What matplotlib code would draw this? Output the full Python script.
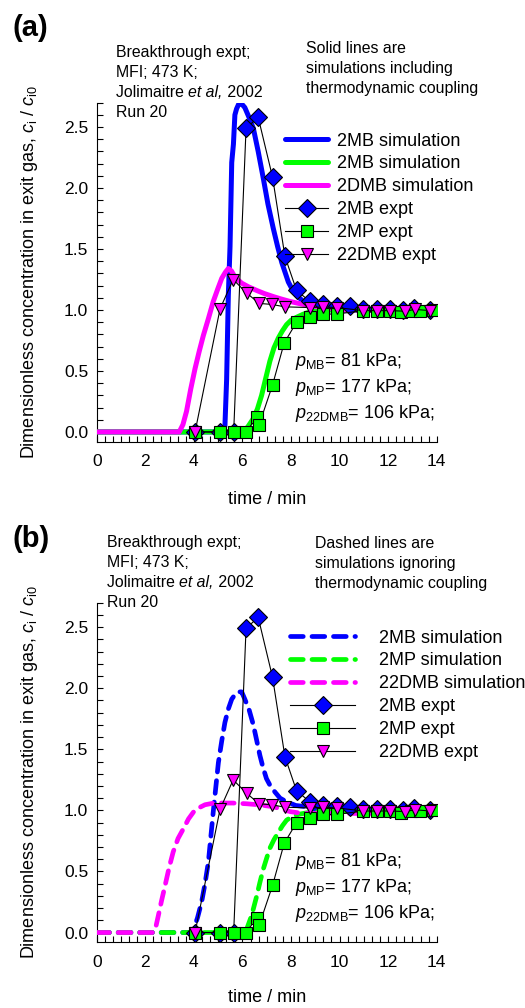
import numpy as np
import matplotlib
matplotlib.use("Agg")
import matplotlib.pyplot as plt
from matplotlib.ticker import MultipleLocator, FormatStrFormatter

plt.rcParams['font.family'] = ['Liberation Sans', 'DejaVu Sans']
plt.rcParams['mathtext.fontset'] = 'custom'
plt.rcParams['mathtext.rm'] = 'Liberation Sans'
plt.rcParams['mathtext.it'] = 'Liberation Sans:italic'

# experimental data (Jolimaitre et al, 2002, run 20)
t_2MB = [4.05, 5.08, 5.64, 6.15, 6.65, 7.24, 7.75, 8.23, 8.78, 9.33, 9.88, 10.43,
         10.98, 11.53, 12.08, 12.63, 13.05, 13.73]
c_2MB = [0.0, 0.0, 0.0, 2.49, 2.58, 2.09, 1.44, 1.16, 1.07, 1.046, 1.035, 1.03,
         1.01, 1.01, 1.01, 1.0, 1.02, 1.0]
t_2MP = [4.05, 5.08, 5.64, 6.15, 6.59, 6.69, 7.24, 7.72, 8.23, 8.78, 9.33, 9.88,
         10.98, 11.53, 12.08, 12.55, 12.95, 13.3, 13.86]
c_2MP = [0.0, 0.0, 0.0, 0.0, 0.12, 0.06, 0.385, 0.73, 0.90, 0.94, 0.967, 0.967,
         0.995, 0.995, 0.995, 0.98, 0.995, 0.995, 1.0]
t_22DMB = [4.05, 5.08, 5.62, 6.17, 6.69, 7.2, 7.75, 8.78, 9.33, 9.88,
           10.98, 11.53, 12.08, 12.7, 13.1, 13.73]
c_22DMB = [0.0, 1.01, 1.25, 1.14, 1.054, 1.046, 1.026, 1.02, 1.025, 1.02,
           0.995, 0.995, 0.995, 0.99, 1.005, 0.995]

# simulations including thermodynamic coupling (a)
ta_2MB = [0, 5.2, 5.28, 5.35, 5.42, 5.49, 5.56, 5.63, 5.69, 5.76, 5.85, 5.97, 6.1,
          6.25, 6.45, 6.65, 6.86, 7.05, 7.27, 7.45, 7.62, 7.89, 8.05, 8.23, 8.45,
          8.65, 8.9, 9.19, 9.6, 10.2, 14]
ca_2MB = [0, 0, 0.05, 0.43, 1.12, 1.52, 2.21, 2.36, 2.60, 2.65, 2.69, 2.69, 2.66,
          2.59, 2.49, 2.30, 2.08, 1.87, 1.67, 1.52, 1.39, 1.23, 1.17, 1.12, 1.08,
          1.05, 1.035, 1.026, 1.01, 1.0, 1.0]
ta_2MP = [0, 6.0, 6.1, 6.25, 6.45, 6.62, 6.79, 6.96, 7.13, 7.3, 7.48, 7.65, 7.82,
          8.0, 8.23, 8.5, 8.78, 9.2, 9.7, 14]
ca_2MP = [0, 0, 0.01, 0.05, 0.11, 0.19, 0.30, 0.44, 0.58, 0.69, 0.77, 0.83, 0.88,
          0.915, 0.94, 0.965, 0.985, 0.995, 1.0, 1.0]
ta_22DMB = [0, 3.4, 3.55, 3.7, 3.87, 4.05, 4.22, 4.39, 4.6, 4.8, 4.98, 5.15, 5.3,
            5.42, 5.55, 5.69, 5.97, 6.25, 6.59, 6.9, 7.27, 7.6, 7.96, 8.3, 8.65,
            9.0, 9.47, 10.0, 14]
ca_22DMB = [0, 0, 0.06, 0.17, 0.35, 0.52, 0.66, 0.79, 0.93, 1.07, 1.17, 1.26, 1.31,
            1.34, 1.32, 1.27, 1.22, 1.19, 1.16, 1.135, 1.11, 1.09, 1.07, 1.055,
            1.04, 1.03, 1.02, 1.0, 1.0]

# simulations ignoring thermodynamic coupling (b)
tb_2MB = [0, 3.85, 3.98, 4.15, 4.32, 4.46, 4.6, 4.8, 5.01, 5.15, 5.28, 5.42, 5.56,
          5.7, 5.83, 5.97, 6.1, 6.28, 6.45, 6.58, 6.72, 6.85, 6.99, 7.15, 7.34,
          7.55, 7.82, 8.2, 8.65, 9.1, 14]
cb_2MB = [0, 0, 0.02, 0.12, 0.25, 0.40, 0.58, 0.99, 1.39, 1.57, 1.72, 1.83, 1.91,
          1.95, 1.97, 1.97, 1.91, 1.82, 1.70, 1.58, 1.45, 1.35, 1.26, 1.20, 1.15,
          1.10, 1.07, 1.04, 1.03, 1.0, 1.0]
tb_2MP = [0, 6.05, 6.18, 6.38, 6.59, 6.72, 6.86, 7.0, 7.13, 7.3, 7.48, 7.65, 7.82,
          8.05, 8.37, 8.8, 9.3, 14]
cb_2MP = [0, 0, 0.03, 0.14, 0.30, 0.41, 0.52, 0.61, 0.69, 0.76, 0.82, 0.875, 0.92,
          0.95, 0.97, 0.985, 0.99, 0.99]
tb_22DMB = [0, 2.33, 2.45, 2.54, 2.67, 2.81, 2.98, 3.15, 3.35, 3.57, 3.78, 3.98,
            4.2, 4.46, 4.75, 5.08, 5.6, 6.18, 6.7, 7.27, 7.6, 7.96, 8.3, 8.65,
            9.2, 10.0, 13.5]
cb_22DMB = [0, 0, 0.06, 0.14, 0.26, 0.38, 0.53, 0.66, 0.77, 0.85, 0.93, 0.985,
            1.02, 1.046, 1.057, 1.06, 1.06, 1.054, 1.045, 1.03, 1.01, 0.99, 0.98,
            0.975, 0.975, 0.975, 0.975]

BLUE = '#0000ff'
GREEN = '#00ff00'
MAGENTA = '#ff00ff'

W, H = 525, 1008
fig = plt.figure(figsize=(W / 100, H / 100), dpi=100)
renderer = fig.canvas.get_renderer()


def fx(px):
    return px / W


def fy(py):
    return 1 - py / H


def setup_axes(ax):
    ax.set_xlim(0, 14)
    ax.set_ylim(-0.08, 2.70)
    for s in ['top', 'right']:
        ax.spines[s].set_visible(False)
    for s in ['left', 'bottom']:
        ax.spines[s].set_linewidth(0.8)
    ax.xaxis.set_major_locator(MultipleLocator(2))
    ax.xaxis.set_minor_locator(MultipleLocator(1 / 3))
    ax.yaxis.set_major_locator(MultipleLocator(0.5))
    ax.yaxis.set_minor_locator(MultipleLocator(0.1))
    ax.yaxis.set_major_formatter(FormatStrFormatter('%.1f'))
    ax.tick_params(which='both', direction='in', length=4.5, width=0.8,
                   labelsize=12.5)
    ax.tick_params(axis='x', which='both', pad=9)
    ax.tick_params(axis='y', which='both', pad=6)


def plot_expt(ax):
    ax.plot(t_2MB, c_2MB, color='black', lw=0.8, marker='D', ms=9,
            mfc=BLUE, mec='black', mew=0.8, label='2MB expt', zorder=5)
    ax.plot(t_2MP, c_2MP, color='black', lw=0.8, marker='s', ms=8,
            mfc=GREEN, mec='black', mew=0.8, label='2MP expt', zorder=6)
    ax.plot(t_22DMB, c_22DMB, color='black', lw=0.8, marker='v', ms=9,
            mfc=MAGENTA, mec='black', mew=0.8, label='22DMB expt', zorder=7)


def text_pieces(x, y, pieces, fs):
    # write a line made of (text, style) pieces one after the other
    xpx = x
    for s, style in pieces:
        t = fig.text(fx(xpx), fy(y), s, fontsize=fs, style=style,
                     ha='left', va='baseline')
        xpx += t.get_window_extent(renderer).width


ylab = r"Dimensionless concentration in exit gas, $c_{\mathrm{i}}$ / $c_{\mathrm{i0}}$"

# ---------------- (a) ----------------
ax1 = fig.add_axes([fx(96.7), fy(441.7), fx(340), 339 / H])
setup_axes(ax1)
ax1.plot(ta_2MB, ca_2MB, color=BLUE, lw=3.6, solid_capstyle='round',
         label='2MB simulation', zorder=2)
ax1.plot(ta_2MP, ca_2MP, color=GREEN, lw=3.6, solid_capstyle='round',
         label='2MB simulation', zorder=3)
ax1.plot(ta_22DMB, ca_22DMB, color=MAGENTA, lw=3.6, solid_capstyle='round',
         label='2DMB simulation', zorder=4)
plot_expt(ax1)
ax1.legend(loc='upper left', bbox_to_anchor=(0.554, 0.912), borderaxespad=0,
           borderpad=0, frameon=False, fontsize=13, handlelength=2.4,
           handletextpad=0.5, labelspacing=0.33, numpoints=1)

# ---------------- (b) ----------------
ax2 = fig.add_axes([fx(96.7), fy(942.3), fx(340), 339.6 / H])
setup_axes(ax2)
dash = (2.7, 1.85)
ax2.plot(tb_2MB, cb_2MB, color=BLUE, lw=3.4, dashes=dash, dash_capstyle='round',
         label='2MB simulation', zorder=2)
ax2.plot(tb_2MP, cb_2MP, color=GREEN, lw=3.4, dashes=dash, dash_capstyle='round',
         label='2MP simulation', zorder=3)
ax2.plot(tb_22DMB, cb_22DMB, color=MAGENTA, lw=3.4, dashes=dash,
         dash_capstyle='round', label='22DMB simulation', zorder=4)
plot_expt(ax2)
ax2.legend(loc='upper left', bbox_to_anchor=(0.569, 0.921), borderaxespad=0,
           borderpad=0, frameon=False, fontsize=13, handlelength=3.6,
           handletextpad=1.3, labelspacing=0.33, numpoints=1)

# texts
fs_note = 11.4
panels = [('(a)', 28.5, 116, 57, 306, 53,
           ['Solid lines are', 'simulations including', 'thermodynamic coupling']),
          ('(b)', 539, 107, 547, 315, 548,
           ['Dashed lines are', 'simulations ignoring', 'thermodynamic coupling'])]
for cap, ycap, xb, yb, xn, yn, note in panels:
    fig.text(fx(12), fy(ycap), cap, fontsize=21, fontweight='bold',
             ha='left', va='center')
    fig.text(fx(xb), fy(yb), 'Breakthrough expt;', fontsize=fs_note,
             ha='left', va='baseline')
    fig.text(fx(xb), fy(yb + 20), 'MFI; 473 K;', fontsize=fs_note,
             ha='left', va='baseline')
    text_pieces(xb, yb + 40, [('Jolimaitre ', 'normal'), ('et al,', 'italic'),
                              (' 2002', 'normal')], fs_note)
    fig.text(fx(xb), fy(yb + 60), 'Run 20', fontsize=fs_note,
             ha='left', va='baseline')
    for i, line in enumerate(note):
        fig.text(fx(xn), fy(yn + 20 * i), line, fontsize=fs_note, ha='left',
                 va='baseline')

for y0 in [362, 862]:
    for i, line in enumerate([r'$p_{\mathrm{MB}}$= 81 kPa;',
                              r'$p_{\mathrm{MP}}$= 177 kPa;',
                              r'$p_{\mathrm{22DMB}}$= 106 kPa;']):
        fig.text(fx(295), fy(y0 + 26 * i), line, fontsize=13, ha='left',
                 va='center')

fig.text(fx(30), fy(272), ylab, rotation=90, fontsize=13, ha='center', va='center')
fig.text(fx(30), fy(772), ylab, rotation=90, fontsize=13, ha='center', va='center')
fig.text(fx(266.7), fy(499), 'time / min', fontsize=13, ha='center', va='center')
fig.text(fx(266.7), fy(998), 'time / min', fontsize=13, ha='center', va='center')

fig.savefig('out.png', dpi=100)
